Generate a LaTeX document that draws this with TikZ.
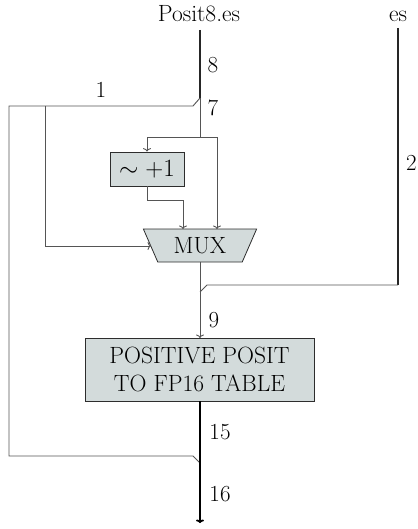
\documentclass[tikz,border=0pt]{standalone}
\usetikzlibrary{arrows.meta,shapes.geometric}
\definecolor{boxfill}{RGB}{211,219,219}
\definecolor{wire}{RGB}{85,85,85}
\definecolor{edge}{RGB}{45,45,45}
\begin{document}
\begin{tikzpicture}[x=1pt,y=-1pt,
  big/.style={font=\fontsize{23.5}{27}\selectfont},
  lbl/.style={font=\fontsize{23}{27}\selectfont, inner sep=0pt},
  wirel/.style={draw=wire, line width=0.9pt},
  darkw/.style={draw=black!85, line width=1.2pt},
  thickw/.style={draw=black, line width=1.8pt},
  tip/.style={-{To[length=3.5pt,width=8pt]}},
  blk/.style={draw=edge, line width=0.8pt, fill=boxfill, inner sep=0pt},
]
\useasboundingbox (0,0) rectangle (417,529);

% nodes
\node[big, inner sep=0pt, anchor=base] (posit) at (199,22) {Posit8.es};
\node[big, inner sep=0pt, anchor=base] (es) at (398,22) {es};
\node[blk, big, minimum width=74pt, minimum height=34pt] (inv) at (147,169) {$\sim+1$};
\node[blk, big, trapezium, shape border rotate=180, trapezium stretches=true,
      trapezium angle=61.4, minimum width=114pt, minimum height=33pt] (mux) at (200,245.5) {MUX};
\node[blk, big, minimum width=229pt, minimum height=63pt, align=center,
      font=\fontsize{23.5}{27.5}\selectfont] (tab) at (199.5,369.5) {POSITIVE POSIT\\TO FP16 TABLE};

% coordinates
\coordinate (top) at (200,30);
\coordinate (j1) at (200,98);
\coordinate (k1) at (193,106);
\coordinate (lc) at (9,106);
\coordinate (lb) at (9,456);
\coordinate (k2) at (193,456);
\coordinate (j2) at (200,463);
\coordinate (m1) at (45,106);
\coordinate (m2) at (45,246);
\coordinate (mx) at (151,246);
\coordinate (s) at (200,137);
\coordinate (sl) at (147,137);
\coordinate (sr) at (217,137);
\coordinate (ir) at (217,229);
\coordinate (t1) at (147,200);
\coordinate (t2) at (183,200);
\coordinate (il) at (183,229);
\coordinate (estop) at (398,28);
\coordinate (esb) at (398,285);
\coordinate (k3) at (207,285);
\coordinate (j3) at (200,292);
\coordinate (mo) at (200,262);
\coordinate (tin) at (200,338);
\coordinate (tout) at (200,401);
\coordinate (endp) at (200,523);

% wires
\draw[darkw] (top) -- (j1);
\draw[wirel] (j1) -- (k1) -- (lc) -- (lb) -- (k2) -- (j2);
\draw[wirel, tip] (m1) -- (m2) -- (mx);
\draw[wirel] (j1) -- (s);
\draw[wirel, tip] (s) -- (sl) -- (inv.north);
\draw[wirel, tip] (s) -- (sr) -- (ir);
\draw[wirel, tip] (inv.south) -- (t1) -- (t2) -- (il);
\draw[darkw] (estop) -- (esb);
\draw[wirel] (esb) -- (k3) -- (j3);
\draw[wirel] (mo) -- (j3);
\draw[wirel, tip] (j3) -- (tin);
\draw[thickw] (tout) -- (j2);
\draw[thickw, tip] (j2) -- (endp);

% labels
\node[lbl] (l8) at (213,65) {8};
\node[lbl] (l7) at (213,108) {7};
\node[lbl] (l1) at (101,90) {1};
\node[lbl, anchor=west] (l2) at (406,163) {2};
\node[lbl] (l9) at (214,320) {9};
\node[lbl] (l15) at (220,432) {15};
\node[lbl] (l16) at (220,494) {16};
\end{tikzpicture}
\end{document}
